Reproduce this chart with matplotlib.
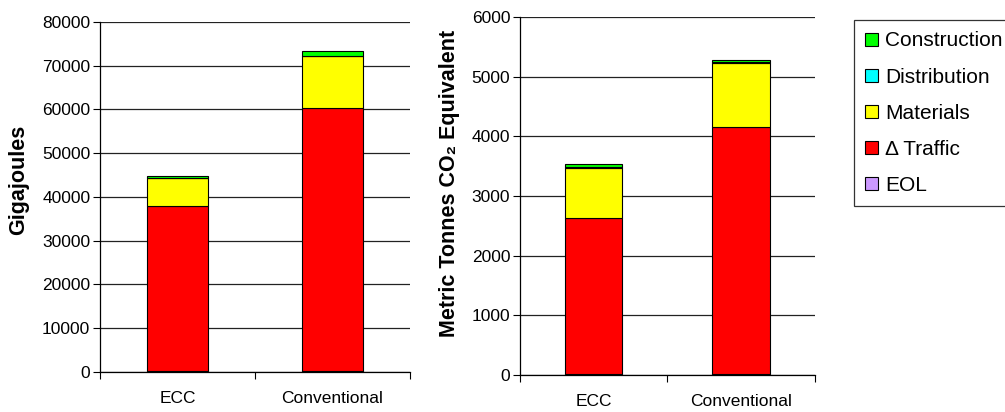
import matplotlib
matplotlib.use("Agg")
from matplotlib import pyplot as plt
from matplotlib.patches import Patch
import numpy as np

plt.rcParams['font.family'] = ['Liberation Sans', 'DejaVu Sans']

cats = ["ECC", "Conventional"]
# stacked from the bottom up
layers = ["EOL", "\u0394 Traffic", "Materials", "Distribution", "Construction"]
colors = ["#CC99FF", "#FF0000", "#FFFF00", "#00FFFF", "#00FF00"]

# energy, GJ
eol_gj = [300, 300]
traffic_gj = [37700, 60000]
materials_gj = [6270, 11900]
distribution_gj = [80, 100]
construction_gj = [450, 1000]

# emissions, metric tonnes CO2 eq
eol_co2 = [20, 20]
traffic_co2 = [2615, 4135]
materials_co2 = [840, 1070]
distribution_co2 = [15, 20]
construction_co2 = [40, 35]

fig = plt.figure(figsize=(10.05, 4.12), dpi=100)
ax1 = fig.add_axes([0.0995, 0.0971, 0.3085, 0.8495])
ax2 = fig.add_axes([0.5174, 0.0898, 0.2935, 0.8689])


def stack(ax, series, ymax, step):
    x = np.arange(len(cats)) + 0.5
    bottom = np.zeros(len(cats))
    for vals, c in zip(series, colors):
        ax.bar(x, vals, 0.39, bottom=bottom, color=c, edgecolor="black",
               linewidth=0.8, zorder=3)
        bottom += np.array(vals)
    ax.set_xlim(0, len(cats))
    ax.set_ylim(0, ymax)
    ax.set_yticks(np.arange(0, ymax + 1, step))
    ax.yaxis.grid(True, color="#222222", linewidth=0.9, zorder=0)
    ax.set_xticks([0, 1, 2])
    ax.set_xticklabels([])
    ax.set_xticks(x, minor=True)
    ax.set_xticklabels(cats, minor=True)
    ax.tick_params(axis="x", which="minor", length=0, pad=14, labelsize=12.5)
    ax.tick_params(axis="x", which="major", length=5, direction="out")
    ax.tick_params(axis="y", length=5, direction="out", labelsize=12.5, pad=2)
    ax.spines["top"].set_visible(False)
    ax.spines["right"].set_visible(False)
    for s in ("left", "bottom"):
        ax.spines[s].set_linewidth(0.9)


stack(ax1, [eol_gj, traffic_gj, materials_gj, distribution_gj, construction_gj], 80000, 10000)
stack(ax2, [eol_co2, traffic_co2, materials_co2, distribution_co2, construction_co2], 6000, 1000)

ax1.set_ylabel("Gigajoules", fontsize=15.5, fontweight="bold")
ax1.yaxis.set_label_coords(-0.229, 0.549)
ax2.set_ylabel("Metric Tonnes CO\u2082 Equivalent", fontsize=15.5, fontweight="bold")
ax2.yaxis.set_label_coords(-0.203, 0.536)

handles = [Patch(facecolor=c, edgecolor="black", linewidth=0.8, label=l)
           for l, c in zip(layers, colors)][::-1]
leg = fig.legend(handles=handles, loc="upper left", bbox_to_anchor=(854 / 1005, 1 - 20 / 412),
                 fontsize=15, frameon=True, fancybox=False, edgecolor="black",
                 handlelength=0.6, handleheight=0.6, handletextpad=0.35,
                 labelspacing=0.82, borderpad=0.55, borderaxespad=0)
leg.get_frame().set_linewidth(0.9)

fig.savefig("out.png", dpi=100)
